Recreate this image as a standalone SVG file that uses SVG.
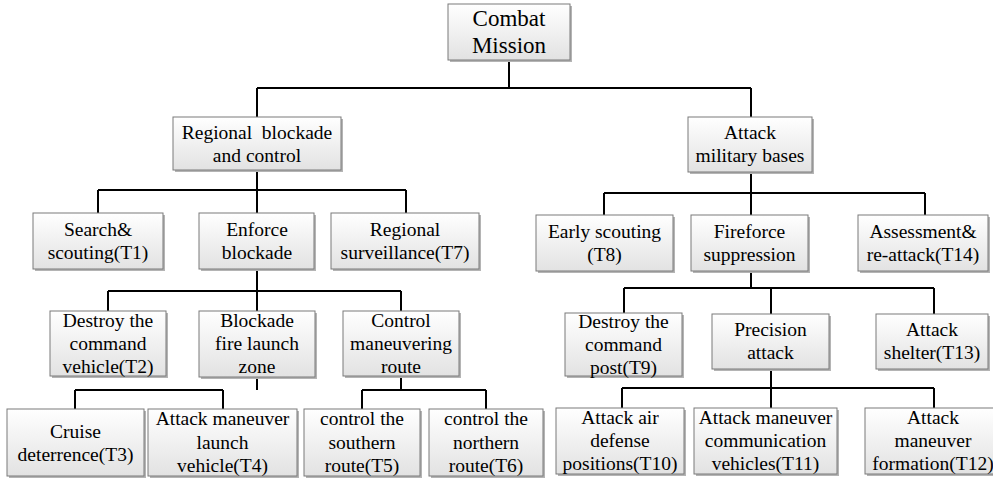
<svg xmlns="http://www.w3.org/2000/svg" width="993" height="479" viewBox="0 0 993 479">
<defs>
<linearGradient id="gf" x1="0" y1="0" x2="0" y2="1">
<stop offset="0" stop-color="#ffffff"/>
<stop offset="1" stop-color="#e2e2e2"/>
</linearGradient>
<style>
.sh{fill:#b4b4b4;}
.bx{fill:url(#gf);stroke:#7a7a7a;stroke-width:1;}
.t{font-size:19.5px;fill:#000;text-anchor:middle;white-space:pre;}
.tr{font-size:23px;}
.cn{fill:none;stroke:#000;stroke-width:2;}
</style>
</defs>
<rect width="993" height="479" fill="#fff"/>
<g id="connectors" class="cn">
<path d="M509 60V88M257 88H751M257 88V117M751 88V117"/>
<path d="M257 170V190M98 190H406M98 190V213M257 190V213M406 190V213"/>
<path d="M257 269V291M108 291H401M108 291V311M257 291V311M401 291V311"/>
<path d="M257 377V390M75 390H223M75 390V409M223 390V409"/>
<path d="M401 376V390M362 390H486M362 390V409M486 390V409"/>
<path d="M751 172V193M604 193H925M604 193V215M751 193V215M925 193V215"/>
<path d="M751 271V288M624 288H934M624 288V313M771 288V314M934 288V314"/>
<path d="M771 369V388M622 388H934M622 388V408M771 388V408M934 388V408"/>
</g>
<g font-family="'Liberation Serif', 'Times New Roman', Times, serif">
<g id="root"><rect class="sh" x="450" y="6" width="122" height="56"/><rect class="bx" x="448" y="4" width="122" height="56"/><text class="t tr" x="509" y="26">Combat</text><text class="t tr" x="509" y="53">Mission</text></g>
<g id="regional_blockade"><rect class="sh" x="175" y="119" width="168" height="53"/><rect class="bx" x="173" y="117" width="168" height="53"/><text class="t" x="257" y="138.5">Regional  blockade</text><text class="t" x="257" y="161.5">and control</text></g>
<g id="attack_bases"><rect class="sh" x="690" y="119" width="124" height="55"/><rect class="bx" x="688" y="117" width="124" height="55"/><text class="t" x="750" y="139">Attack</text><text class="t" x="750" y="162">military bases</text></g>
<g id="t1"><rect class="sh" x="35" y="215" width="130" height="56"/><rect class="bx" x="33" y="213" width="130" height="56"/><text class="t" x="98" y="235.5">Search&amp;</text><text class="t" x="98" y="258.5">scouting(T1)</text></g>
<g id="enforce_blockade"><rect class="sh" x="201" y="215" width="115" height="56"/><rect class="bx" x="199" y="213" width="115" height="56"/><text class="t" x="257" y="235.5">Enforce</text><text class="t" x="257" y="258.5">blockade</text></g>
<g id="t7"><rect class="sh" x="333" y="215" width="148" height="56"/><rect class="bx" x="331" y="213" width="148" height="56"/><text class="t" x="405" y="235.5">Regional</text><text class="t" x="405" y="258.5">surveillance(T7)</text></g>
<g id="t8"><rect class="sh" x="538" y="217" width="137" height="56"/><rect class="bx" x="536" y="215" width="137" height="56"/><text class="t" x="604.5" y="237.5">Early scouting</text><text class="t" x="604.5" y="260.5">(T8)</text></g>
<g id="fireforce"><rect class="sh" x="693" y="217" width="117" height="56"/><rect class="bx" x="691" y="215" width="117" height="56"/><text class="t" x="749.5" y="237.5">Fireforce</text><text class="t" x="749.5" y="260.5">suppression</text></g>
<g id="t14"><rect class="sh" x="860" y="217" width="130" height="56"/><rect class="bx" x="858" y="215" width="130" height="56"/><text class="t" x="923" y="237.5">Assessment&amp;</text><text class="t" x="923" y="260.5">re-attack(T14)</text></g>
<g id="t2"><rect class="sh" x="52" y="313" width="116" height="65"/><rect class="bx" x="50" y="311" width="116" height="65"/><text class="t" x="108" y="327">Destroy the</text><text class="t" x="108" y="350">command</text><text class="t" x="108" y="373">vehicle(T2)</text></g>
<g id="blockade_zone"><rect class="sh" x="201" y="313" width="116" height="66"/><rect class="bx" x="199" y="311" width="116" height="66"/><text class="t" x="257" y="327">Blockade</text><text class="t" x="257" y="350">fire launch</text><text class="t" x="257" y="373">zone</text></g>
<g id="control_route"><rect class="sh" x="345" y="313" width="116" height="65"/><rect class="bx" x="343" y="311" width="116" height="65"/><text class="t" x="401" y="327">Control</text><text class="t" x="401" y="350">maneuvering</text><text class="t" x="401" y="373">route</text></g>
<g id="t9"><rect class="sh" x="567" y="315" width="117" height="63"/><rect class="bx" x="565" y="313" width="117" height="63"/><text class="t" x="623.5" y="328">Destroy the</text><text class="t" x="623.5" y="351">command</text><text class="t" x="623.5" y="374">post(T9)</text></g>
<g id="precision"><rect class="sh" x="714" y="316" width="117" height="55"/><rect class="bx" x="712" y="314" width="117" height="55"/><text class="t" x="770.5" y="336">Precision</text><text class="t" x="770.5" y="359">attack</text></g>
<g id="t13"><rect class="sh" x="878" y="316" width="112" height="55"/><rect class="bx" x="876" y="314" width="112" height="55"/><text class="t" x="932" y="336">Attack</text><text class="t" x="932" y="359">shelter(T13)</text></g>
<g id="t3"><rect class="sh" x="9" y="411" width="137" height="67"/><rect class="bx" x="7" y="409" width="137" height="67"/><text class="t" x="75.5" y="437.5">Cruise</text><text class="t" x="75.5" y="460.5">deterrence(T3)</text></g>
<g id="t4"><rect class="sh" x="150" y="411" width="149" height="67"/><rect class="bx" x="148" y="409" width="149" height="67"/><text class="t" x="222.5" y="425">Attack maneuver</text><text class="t" x="222.5" y="448.5">launch</text><text class="t" x="222.5" y="472">vehicle(T4)</text></g>
<g id="t5"><rect class="sh" x="306" y="411" width="116" height="67"/><rect class="bx" x="304" y="409" width="116" height="67"/><text class="t" x="362" y="425">control the</text><text class="t" x="362" y="448.5">southern</text><text class="t" x="362" y="472">route(T5)</text></g>
<g id="t6"><rect class="sh" x="431" y="411" width="114" height="67"/><rect class="bx" x="429" y="409" width="114" height="67"/><text class="t" x="486" y="425">control the</text><text class="t" x="486" y="448.5">northern</text><text class="t" x="486" y="472">route(T6)</text></g>
<g id="t10"><rect class="sh" x="558" y="410" width="128" height="66"/><rect class="bx" x="556" y="408" width="128" height="66"/><text class="t" x="620" y="424">Attack air</text><text class="t" x="620" y="447">defense</text><text class="t" x="620" y="470">positions(T10)</text></g>
<g id="t11"><rect class="sh" x="696" y="410" width="143" height="66"/><rect class="bx" x="694" y="408" width="143" height="66"/><text class="t" x="765.5" y="424">Attack maneuver</text><text class="t" x="765.5" y="447">communication</text><text class="t" x="765.5" y="470">vehicles(T11)</text></g>
<g id="t12"><rect class="sh" x="867" y="410" width="140" height="66"/><rect class="bx" x="865" y="408" width="140" height="66"/><text class="t" x="933" y="424">Attack</text><text class="t" x="933" y="447">maneuver</text><text class="t" x="933" y="470">formation(T12)</text></g>
</g>
</svg>
